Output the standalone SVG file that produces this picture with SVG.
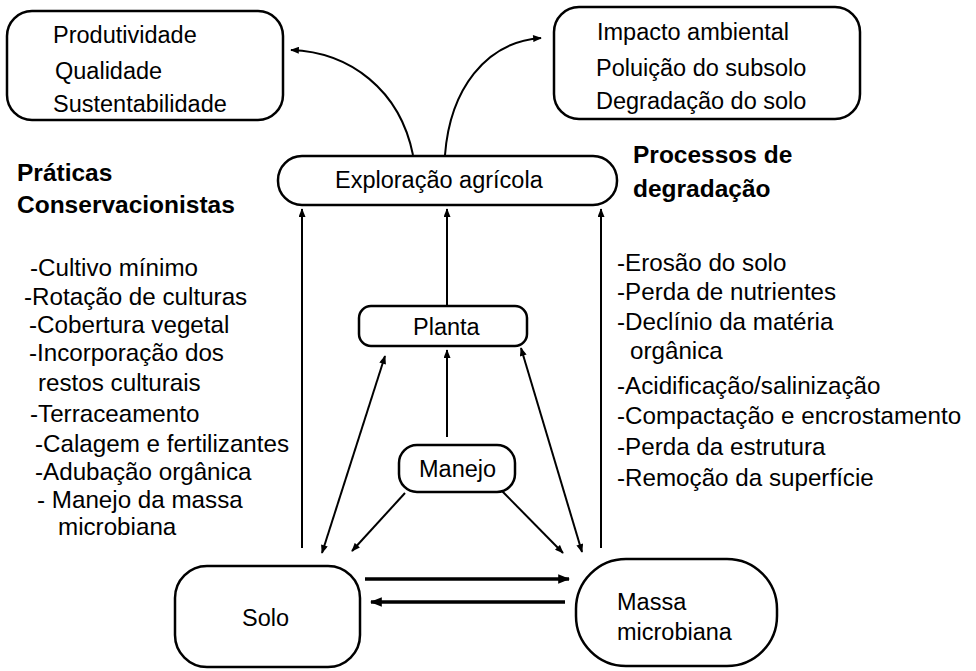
<svg xmlns="http://www.w3.org/2000/svg" width="976" height="671" viewBox="0 0 976 671">
<defs>
<marker id="ah" viewBox="0 0 10 8" refX="9" refY="4" markerWidth="10" markerHeight="7" markerUnits="userSpaceOnUse" orient="auto-start-reverse">
<path d="M0,0 L10,4 L0,8 Z" fill="#000"/>
</marker>
<marker id="ahb" viewBox="0 0 10 8" refX="9" refY="4" markerWidth="12" markerHeight="10" markerUnits="userSpaceOnUse" orient="auto-start-reverse">
<path d="M0,0 L10,4 L0,8 Z" fill="#000"/>
</marker>
</defs>
<style>
text{font-family:"Liberation Sans",Arial,sans-serif;font-size:23.5px;fill:#000}
.b{font-weight:bold;font-size:24.5px}
.li{font-size:24.2px}
.box{fill:#fff;stroke:#000;stroke-width:2.5}
.ln{fill:none;stroke:#000;stroke-width:2}
.thick{fill:none;stroke:#000;stroke-width:3.5}
</style>
<rect width="976" height="671" fill="#fff"/>

<g id="connectors">
<path class="ln" d="M413,155 C400,90 350,52 291,50" marker-end="url(#ah)"/>
<path class="ln" d="M445,155 C450,90 485,42 541,38" marker-end="url(#ah)"/>
<path class="ln" d="M302,548 L302,209" marker-end="url(#ah)"/>
<path class="ln" d="M601,548 L601,209" marker-end="url(#ah)"/>
<path class="ln" d="M447,306 L447,209" marker-end="url(#ah)"/>
<path class="ln" d="M447,437 L447,350" marker-end="url(#ah)"/>
<path class="ln" d="M322,553 L385,356" marker-start="url(#ah)" marker-end="url(#ah)"/>
<path class="ln" d="M582,552 L521,348" marker-start="url(#ah)" marker-end="url(#ah)"/>
<path class="ln" d="M405,493 L352,551" marker-end="url(#ah)"/>
<path class="ln" d="M502,491 L563,553" marker-end="url(#ah)"/>
<path class="thick" d="M365,579 L569,579" marker-end="url(#ahb)"/>
<path class="thick" d="M565,602 L371,602" marker-end="url(#ahb)"/>
</g>

<g id="resultados">
<rect class="box" x="7" y="11" width="276" height="109" rx="25"/>
<text x="53" y="43">Produtividade</text>
<text x="55" y="79">Qualidade</text>
<text x="53" y="112">Sustentabilidade</text>
</g>

<g id="impacto">
<rect class="box" x="554" y="7" width="306" height="112" rx="25"/>
<text x="597" y="40">Impacto ambiental</text>
<text x="596" y="76">Poluição do subsolo</text>
<text x="596" y="109">Degradação do solo</text>
</g>

<g id="exploracao">
<rect class="box" x="278" y="156" width="339" height="49" rx="24"/>
<text x="335" y="188">Exploração agrícola</text>
</g>

<g id="praticas">
<text class="b" x="17" y="181">Práticas</text>
<text class="b" x="17" y="213">Conservacionistas</text>
<text class="li" x="30" y="276">-Cultivo mínimo</text>
<text class="li" x="24" y="305">-Rotação de culturas</text>
<text class="li" x="29" y="333">-Cobertura vegetal</text>
<text class="li" x="29" y="361">-Incorporação dos</text>
<text class="li" x="38" y="391">restos culturais</text>
<text class="li" x="30" y="422">-Terraceamento</text>
<text class="li" x="35" y="452">-Calagem e fertilizantes</text>
<text class="li" x="35" y="480">-Adubação orgânica</text>
<text class="li" x="37" y="508">- Manejo da massa</text>
<text class="li" x="58" y="535">microbiana</text>
</g>

<g id="processos">
<text class="b" x="633" y="163">Processos de</text>
<text class="b" x="633" y="197">degradação</text>
<text class="li" x="617" y="271">-Erosão do solo</text>
<text class="li" x="617" y="300">-Perda de nutrientes</text>
<text class="li" x="617" y="330">-Declínio da matéria</text>
<text class="li" x="630" y="359">orgânica</text>
<text class="li" x="617" y="394">-Acidificação/salinização</text>
<text class="li" x="617" y="424">-Compactação e encrostamento</text>
<text class="li" x="617" y="455">-Perda da estrutura</text>
<text class="li" x="617" y="486">-Remoção da superfície</text>
</g>

<g id="planta">
<rect class="box" x="359" y="306" width="168" height="40" rx="12" stroke-width="3"/>
<text x="413" y="335">Planta</text>
</g>

<g id="manejo">
<rect class="box" x="399" y="445" width="116" height="47" rx="18"/>
<text x="419" y="477">Manejo</text>
</g>

<g id="solo">
<rect class="box" x="175" y="566" width="185" height="101" rx="32" stroke-width="4"/>
<text x="242" y="626">Solo</text>
</g>

<g id="massa">
<rect class="box" x="576" y="559" width="201" height="107" rx="50"/>
<text x="617" y="610">Massa</text>
<text x="617" y="640">microbiana</text>
</g>
</svg>
